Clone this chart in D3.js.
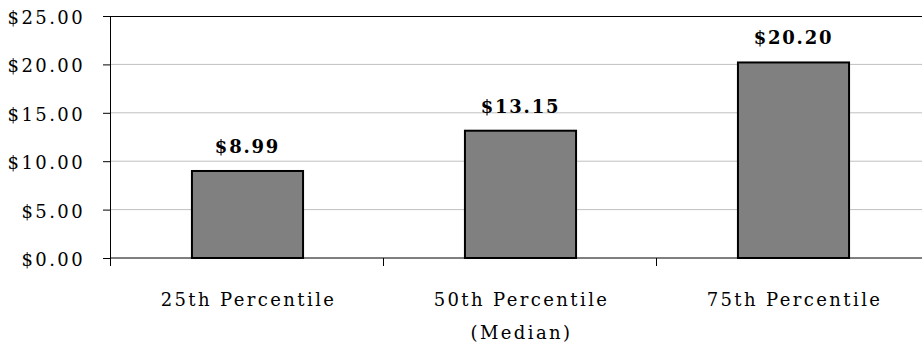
<!DOCTYPE html>
<html>
<head>
<meta charset="utf-8">
<script src="https://cdn.jsdelivr.net/npm/d3@7"></script>
<style>
  body { margin: 0; background: #fff; }
  svg { display: block; font-family: "DejaVu Serif", serif; }
</style>
</head>
<body>
<div id="chart"></div>
<script>
const categories = ['25th Percentile', '50th Percentile\n(Median)', '75th Percentile'];
const wages = [8.99, 13.15, 20.20];
const yTicks = [0, 5, 10, 15, 20, 25];

const width = 922, height = 348;
const margin = { top: 16, right: -7, bottom: 90, left: 110 };
const boundedWidth = width - margin.left - margin.right;
const boundedHeight = height - margin.top - margin.bottom;

const svg = d3.select('#chart').append('svg')
  .attr('width', width)
  .attr('height', height);

const g = svg.append('g')
  .attr('transform', `translate(${margin.left}, ${margin.top})`);

const xScale = d3.scaleBand()
  .domain(categories)
  .range([0, boundedWidth])
  .padding(0);

const yScale = d3.scaleLinear()
  .domain([0, 25])
  .range([boundedHeight, 0]);

// gridlines
g.append('g')
  .selectAll('line')
  .data(yTicks.filter(d => d > 0 && d < 25))
  .join('line')
  .attr('x1', 0)
  .attr('x2', boundedWidth)
  .attr('y1', d => yScale(d))
  .attr('y2', d => yScale(d))
  .attr('stroke', '#c0c0c0')
  .attr('stroke-width', 1);

// top frame line
g.append('line')
  .attr('x1', 0).attr('x2', boundedWidth)
  .attr('y1', 0.5).attr('y2', 0.5)
  .attr('stroke', '#000');

// bars
const barWidth = xScale.bandwidth() * 0.407;
g.selectAll('rect.bar')
  .data(wages)
  .join('rect')
  .attr('class', 'bar')
  .attr('x', (d, i) => xScale(categories[i]) + (xScale.bandwidth() - barWidth) / 2 + 1)
  .attr('y', d => yScale(d))
  .attr('width', barWidth)
  .attr('height', d => boundedHeight - yScale(d))
  .attr('fill', '#808080')
  .attr('stroke', '#000')
  .attr('stroke-width', 2);

// value labels
g.selectAll('text.value')
  .data(wages)
  .join('text')
  .attr('class', 'value')
  .attr('x', (d, i) => xScale(categories[i]) + xScale.bandwidth() / 2 + 1)
  .attr('y', d => yScale(d) - 18)
  .attr('text-anchor', 'middle')
  .attr('font-weight', 700)
  .style('font-size', '18px')
  .style('letter-spacing', '1.8px')
  .attr('fill', '#000')
  .text(d => '$' + d.toFixed(2));

// y axis
const yAxis = g.append('g')
  .call(d3.axisLeft(yScale).tickValues(yTicks).tickSize(7).tickPadding(18)
    .tickFormat(d => '$' + d.toFixed(2)));
yAxis.select('.domain').attr('stroke', '#000').attr('d', `M-7,0.5H0.5V${boundedHeight}`);
yAxis.selectAll('text')
  .style('font-size', '18px')
  .style('letter-spacing', '2.4px')
  .style('font-family', '"DejaVu Serif", serif')
  .attr('dy', '0.42em')
  .attr('fill', '#000');

// x axis
const xAxis = g.append('g')
  .attr('transform', `translate(0, ${boundedHeight})`);
xAxis.append('line')
  .attr('x1', 0).attr('x2', boundedWidth)
  .attr('y1', 0).attr('y2', 0)
  .attr('stroke', '#000');
xAxis.selectAll('line.tick')
  .data(categories.concat(['end']))
  .join('line')
  .attr('class', 'tick')
  .attr('x1', (d, i) => i < categories.length ? xScale(d) + 0.5 : boundedWidth)
  .attr('x2', (d, i) => i < categories.length ? xScale(d) + 0.5 : boundedWidth)
  .attr('y1', 0).attr('y2', 8)
  .attr('stroke', '#000');

xAxis.selectAll('text.cat')
  .data(categories)
  .join('text')
  .attr('class', 'cat')
  .attr('y', 48)
  .attr('text-anchor', 'middle')
  .style('font-size', '18px')
  .style('letter-spacing', '2.4px')
  .attr('fill', '#000')
  .each(function (d) {
    d.split('\n').forEach((line, i) => {
      d3.select(this).append('tspan')
        .attr('x', xScale(d) + xScale.bandwidth() / 2 + 2)
        .attr('dy', i === 0 ? 0 : 33)
        .text(line);
    });
  });
</script>
</body>
</html>
